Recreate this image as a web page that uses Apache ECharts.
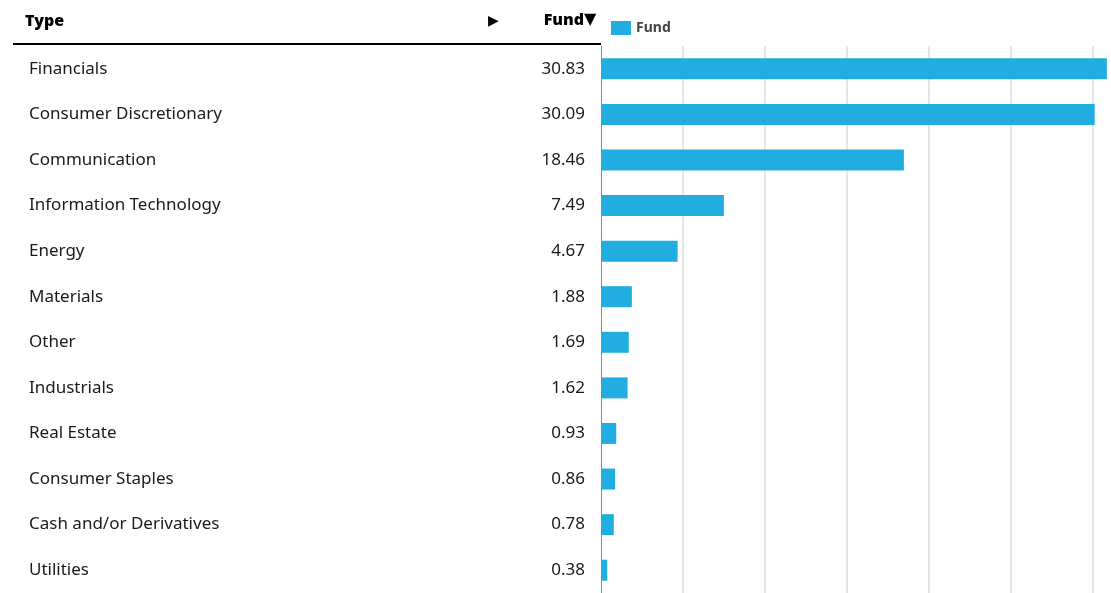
<!DOCTYPE html>
<html><head><meta charset="utf-8">
<script src="https://cdn.jsdelivr.net/npm/echarts@6/dist/echarts.min.js"></script>
<style>html,body{margin:0;padding:0;background:#fff}#c{width:1111px;height:593px}</style>
</head><body><div id="c"></div>
<script>
const categories = ["Financials","Consumer Discretionary","Communication","Information Technology","Energy","Materials","Other","Industrials","Real Estate","Consumer Staples","Cash and/or Derivatives","Utilities"];
const fundValues = [30.83,30.09,18.46,7.49,4.67,1.88,1.69,1.62,0.93,0.86,0.78,0.38];
const valueLabels = fundValues.map(v => v.toFixed(2));
const FONT = "Noto Sans";
const chart = echarts.init(document.getElementById('c'));
chart.setOption({
  animation: false,
  textStyle: {fontFamily: FONT},
  legend: {
    data: ['Fund'], left: 606, top: 16, itemWidth: 20, itemHeight: 14, itemGap: 6,
    icon: 'rect',
    textStyle: {fontFamily: FONT, fontSize: 14, fontWeight: 'bold', color: '#444', padding: [3, 0, 0, 0]}
  },
  grid: {left: 601, right: 3, top: 46, bottom: 0},
  xAxis: {
    type: 'value', min: 0, max: 30.9, interval: 5,
    axisLine: {show: false}, axisTick: {show: false}, axisLabel: {show: false},
    splitLine: {show: true, showMinLine: false, showMaxLine: false, lineStyle: {color: '#e6e6e6', width: 2}}
  },
  yAxis: [{
    type: 'category', data: categories, inverse: true,
    axisLine: {show: true, lineStyle: {color: '#888', width: 1}},
    axisTick: {show: false},
    axisLabel: {align: 'left', margin: 572, fontFamily: FONT, fontSize: 17, color: '#1a1a1a'}
  },{
    type: 'category', data: valueLabels, inverse: true, position: 'left',
    axisLine: {show: false}, axisTick: {show: false},
    axisLabel: {align: 'right', margin: 16, fontFamily: FONT, fontSize: 17, color: '#1a1a1a'}
  }],
  series: [{
    name: 'Fund', type: 'bar', data: fundValues, barWidth: 21,
    itemStyle: {color: '#22ade1'}
  }],
  graphic: [
    {type: 'text', left: 25, top: 13, style: {text: 'Type', fontFamily: FONT, fontSize: 16, fontWeight: 900, fill: '#000'}},
    {type: 'text', left: 488, top: 14, style: {text: '▶', fontFamily: 'DejaVu Sans', fontSize: 14, fill: '#000'}},
    {type: 'text', right: 527, top: 12, style: {text: 'Fund', fontFamily: FONT, fontSize: 16, fontWeight: 900, fill: '#000'}},
    {type: 'text', left: 584, top: 12, style: {text: '▼', fontFamily: 'DejaVu Sans', fontSize: 16, fill: '#000'}},
    {type: 'rect', shape: {x: 13, y: 43, width: 588, height: 2}, style: {fill: '#000'}}
  ]
});
</script></body></html>
